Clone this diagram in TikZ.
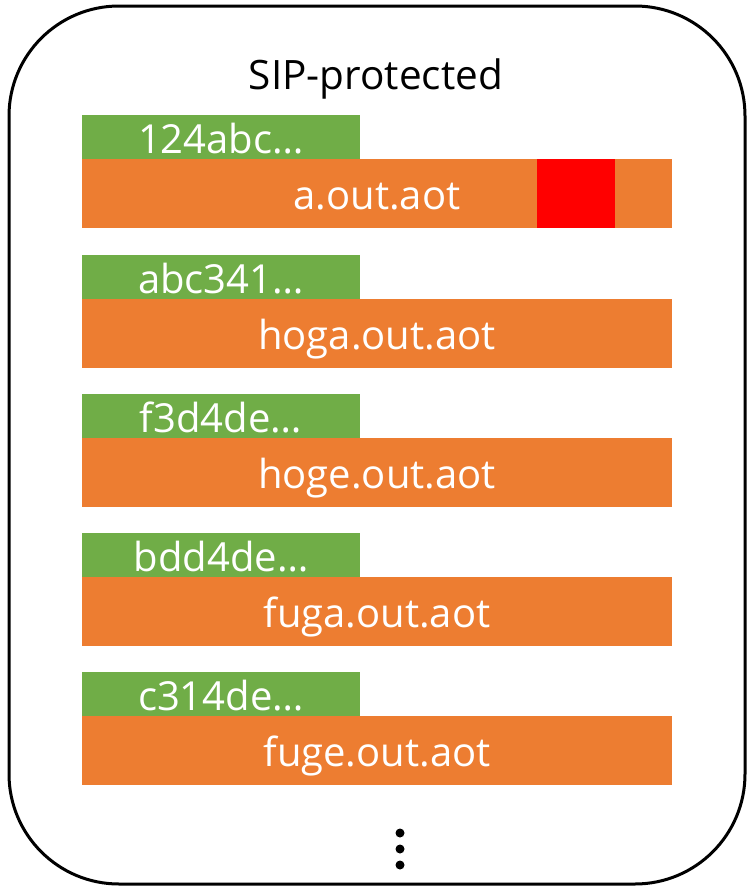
\documentclass[tikz,border=0pt]{standalone}
\usepackage{fontspec}
\setmainfont{Open Sans}
\definecolor{tagGreen}{HTML}{70AD47}
\definecolor{fileOrange}{HTML}{ED7D31}
\definecolor{hotRed}{HTML}{FF0000}
\begin{document}
\begin{tikzpicture}[x=1pt,y=-1pt,
  hashtag/.style={fill=tagGreen},
  filebar/.style={fill=fileOrange},
  lbl/.style={text=white,font=\fontsize{40}{45}\selectfont,inner sep=0pt,anchor=base},
  title/.style={text=black,font=\fontsize{40.5}{45}\selectfont,inner sep=0pt,anchor=base}]
\useasboundingbox (0,0) rectangle (749,886);
% outer container
\draw[line width=3pt,rounded corners=110pt] (9,6) rectangle (745,884);
\node[title] (ttl) at (376,89) {SIP-protected};
% rows: hash tag on top of the file bar
\foreach \y in {115,255,394,533,672}{
  \fill[hashtag] (82,\y) rectangle (360,\y+44);
  \fill[filebar] (82,\y+44) rectangle (672,\y+113);
}
\fill[hotRed] (537,159) rectangle (615,228);
\node[lbl] (h1) at (221,153) {124abc\ldots};
\node[lbl] (f1) at (377,209) {a.out.aot};
\node[lbl] (h2) at (221,293) {abc341\ldots};
\node[lbl] (f2) at (377,349) {hoga.out.aot};
\node[lbl] (h3) at (221,432) {f3d4de\ldots};
\node[lbl] (f3) at (377,488) {hoge.out.aot};
\node[lbl] (h4) at (221,571) {bdd4de\ldots};
\node[lbl] (f4) at (377,627) {fuga.out.aot};
\node[lbl] (h5) at (221,710) {c314de\ldots};
\node[lbl] (f5) at (377,766) {fuge.out.aot};
% continuation dots
\foreach \d in {833,849,865}{\fill (400,\d) circle (4.5);}
\end{tikzpicture}
\end{document}
